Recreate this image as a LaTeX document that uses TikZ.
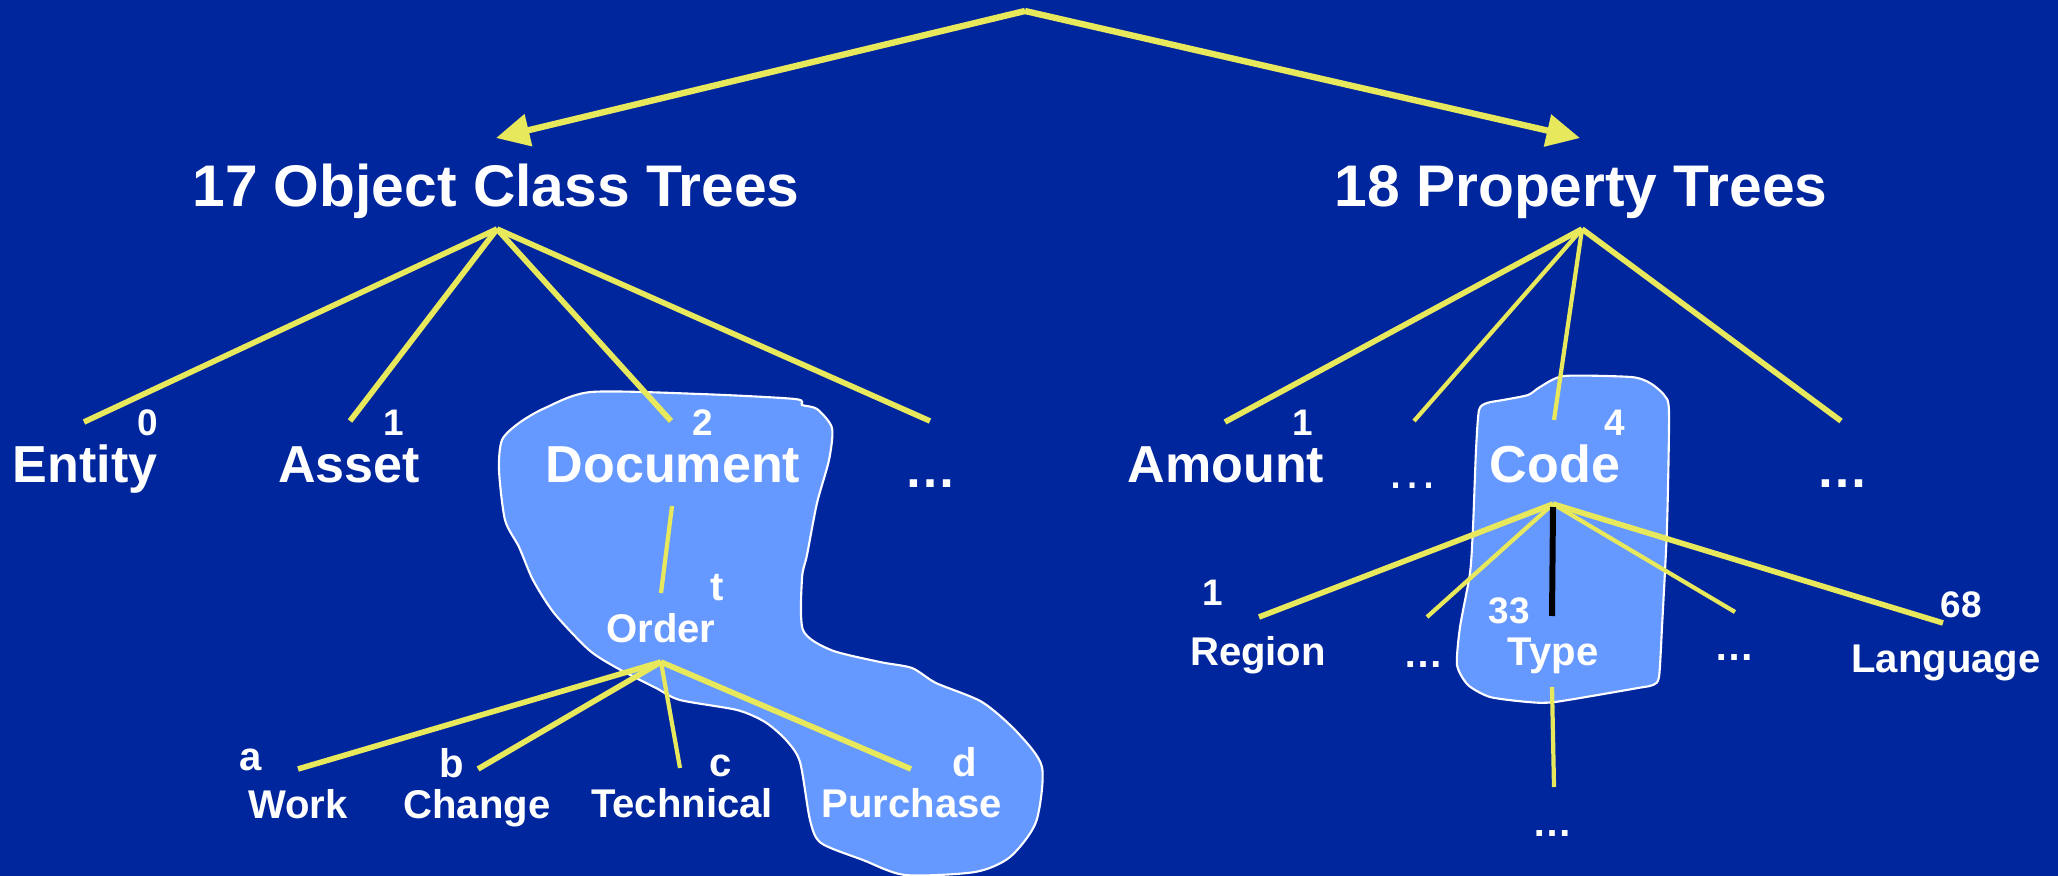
\documentclass[tikz,border=0pt]{standalone}
\usepackage{fontspec}
\setmainfont{Liberation Sans}
\usetikzlibrary{arrows.meta}
\definecolor{bgblue}{RGB}{0,38,158}
\definecolor{twig}{RGB}{232,232,92}
\definecolor{patch}{RGB}{102,153,255}
\begin{document}
\begin{tikzpicture}[x=0.01cm,y=-0.01cm,
  branch/.style={draw=twig, line width=1.6pt},
  slimbranch/.style={draw=twig, line width=1.2pt},
  trunk/.style={draw=twig, line width=1.8pt, -{Triangle[length=9.5pt,width=9pt]}},
  blob/.style={fill=patch, draw=white, line width=0.6pt},
  headtext/.style={text=white, font=\bfseries\fontsize{16.7}{18}\selectfont, inner sep=0pt, anchor=base},
  lvlone/.style={text=white, font=\bfseries\fontsize{14.8}{16}\selectfont, inner sep=0pt, anchor=base},
  lvltwo/.style={text=white, font=\bfseries\fontsize{11.4}{13}\selectfont, inner sep=0pt, anchor=base},
  idx/.style={text=white, font=\bfseries\fontsize{10.5}{12}\selectfont, inner sep=0pt, anchor=base},
]
\useasboundingbox (0,0) rectangle (2058,876);
% background
\fill[bgblue] (0,0) rectangle (2058,876);

% highlighted areas
\draw[blob] plot[smooth cycle, tension=0.45] coordinates {
  (545,408) (591,392) (700,394) (795,399) (802,405) (817,409) (832,428)
  (829,460) (817,503) (807,555) (802,578) (803,630) (831,650) (880,662)
  (912,668) (936,683) (982,702) (1017,732) (1042,767) (1036,822)
  (1010,857) (975,872) (905,875) (863,860) (821,843) (810,820) (800,762)
  (786,740) (765,722) (737,710) (680,700) (656,688) (617,668) (589,650)
  (554,613) (533,580) (519,547) (505,520) (499,470) (502,440) (519,423)};
\draw[blob] plot[smooth cycle, tension=0.4] coordinates {
  (1479,410) (1487,403) (1503,400) (1528,395) (1540,387) (1564,376)
  (1631,377) (1650,383) (1664,395) (1669,412) (1667,527) (1662,627)
  (1659,677) (1653,685) (1638,688) (1555,702) (1528,702) (1490,697)
  (1468,685) (1457,665) (1460,627) (1470,573) (1473,527) (1476,450)};

% connector points
\coordinate (root) at (1025,11);
\coordinate (ocTip) at (496,138);
\coordinate (ptTip) at (1580,138);
\coordinate (ocFan) at (497,229);
\coordinate (ptFan) at (1582,229);
\coordinate (eEnt) at (84,422);
\coordinate (eAss) at (350,421);
\coordinate (eDoc) at (671,421);
\coordinate (eOcMore) at (930,421);
\coordinate (eAmt) at (1225,422);
\coordinate (ePtMore) at (1414,421);
\coordinate (eCode) at (1554,420);
\coordinate (ePtRest) at (1841,421);
\coordinate (docFoot) at (672,506);
\coordinate (ordTop) at (661,593);
\coordinate (ordFan) at (661,662);
\coordinate (eWork) at (298,769);
\coordinate (eChange) at (478,769);
\coordinate (eTech) at (680,768);
\coordinate (ePurch) at (911,769);
\coordinate (codeFan) at (1553,504);
\coordinate (eRegion) at (1259,617);
\coordinate (eCdMore) at (1427,617);
\coordinate (eCdRest) at (1735,612);
\coordinate (eLang) at (1943,623);
\coordinate (blkTop) at (1553,507);
\coordinate (blkBot) at (1552,616);
\coordinate (typeFoot) at (1552,687);
\coordinate (typeDown) at (1554,787);

% top split
\draw[trunk] (root) -- (ocTip);
\draw[trunk] (root) -- (ptTip);

% object class tree
\draw[branch] (ocFan) -- (eEnt);
\draw[branch] (ocFan) -- (eAss);
\draw[branch] (ocFan) -- (eDoc);
\draw[branch] (ocFan) -- (eOcMore);
\draw[slimbranch] (docFoot) -- (ordTop);
\draw[branch] (ordFan) -- (eWork);
\draw[branch] (ordFan) -- (eChange);
\draw[slimbranch] (ordFan) -- (eTech);
\draw[branch] (ordFan) -- (ePurch);

% property tree
\draw[branch] (ptFan) -- (eAmt);
\draw[slimbranch] (ptFan) -- (ePtMore);
\draw[slimbranch] (ptFan) -- (eCode);
\draw[branch] (ptFan) -- (ePtRest);
\draw[branch] (codeFan) -- (eRegion);
\draw[slimbranch] (codeFan) -- (eCdMore);
\draw[slimbranch] (codeFan) -- (eCdRest);
\draw[branch] (codeFan) -- (eLang);
\draw[black, line width=1.7pt] (blkTop) -- (blkBot);
\draw[slimbranch] (typeFoot) -- (typeDown);

% headings
\node[headtext] (ocHead) at (496,206) {17 Object Class Trees};
\node[headtext] (ptHead) at (1581,206) {18 Property Trees};

% first level
\node[lvlone] (entity) at (85,482) {Entity};
\node[lvlone] (asset) at (349,482) {Asset};
\node[lvlone] (document) at (673,482) {Document};
\node[lvlone] (ocMore) at (931,487) {…};
\node[lvlone] (amount) at (1226,482) {Amount};
\node[lvlone, font=\mdseries\fontsize{14.8}{16}\selectfont] (ptMore) at (1413,488) {…};
\node[lvlone] (code) at (1555,482) {Code};
\node[lvlone] (ptRest) at (1842,487) {…};

\node[idx] (nEnt) at (148,435) {0};
\node[idx] (nAss) at (394,435) {1};
\node[idx] (nDoc) at (703,435) {2};
\node[idx] (nAmt) at (1303,435) {1};
\node[idx] (nCode) at (1615,435) {4};

% second level, object classes
\node[lvltwo] (order) at (661,642) {Order};
\node[lvltwo] (nOrd) at (717,600) {t};
\node[lvltwo] (work) at (298,818) {Work};
\node[lvltwo] (nWork) at (251,770) {a};
\node[lvltwo] (change) at (477,818) {Change};
\node[lvltwo] (nChange) at (452,777) {b};
\node[lvltwo] (technical) at (682,817) {Technical};
\node[lvltwo] (nTech) at (721,776) {c};
\node[lvltwo] (purchase) at (912,817) {Purchase};
\node[lvltwo] (nPurch) at (965,776) {d};

% second level, properties
\node[lvltwo] (region) at (1258,665) {Region};
\node[idx] (nRegion) at (1213,605) {1};
\node[lvltwo] (cdMore) at (1424,667) {…};
\node[lvltwo] (type) at (1553,665) {Type};
\node[idx] (nType) at (1509,623) {33};
\node[lvltwo] (cdRest) at (1735,660) {…};
\node[lvltwo] (language) at (1946,672) {Language};
\node[idx] (nLang) at (1961,617) {68};
\node[lvltwo] (typeMore) at (1553,836) {…};
\end{tikzpicture}
\end{document}
